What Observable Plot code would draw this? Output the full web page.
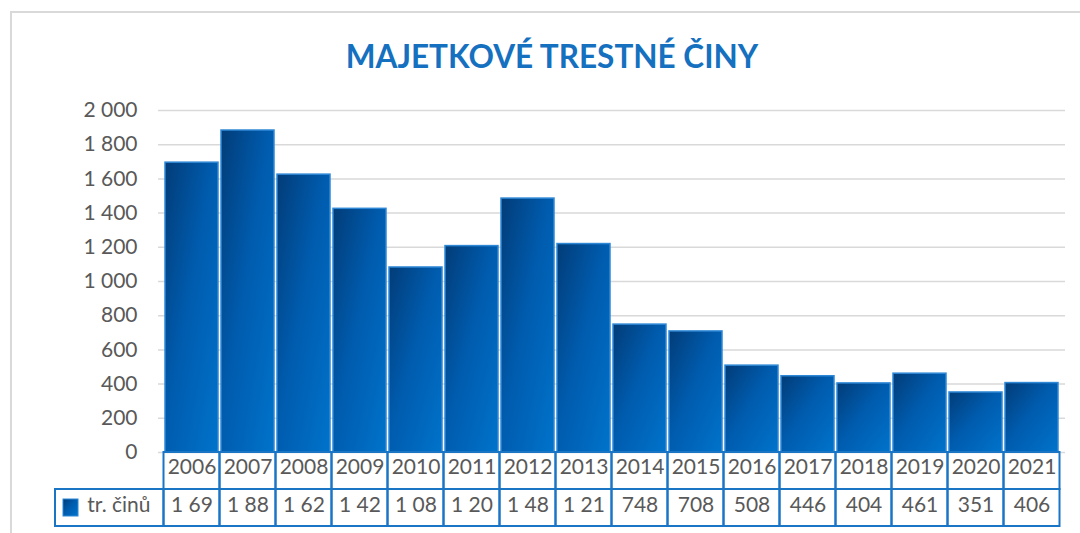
<!DOCTYPE html>
<html>
<head>
<meta charset="utf-8">
<script src="https://cdn.jsdelivr.net/npm/d3@7"></script>
<script src="https://cdn.jsdelivr.net/npm/@observablehq/plot@0.6"></script>
<style>
  body { margin: 0; background: #fff; font-family: Lato, "Open Sans", sans-serif; }
  #wrap { position: relative; width: 1080px; height: 533px; overflow: hidden; background: #fff; }
  #frame { position: absolute; left: 10px; top: 11px; width: 1200px; height: 700px; border: 2px solid #d9d9d9; box-sizing: border-box; }
  #title { position: absolute; left: 12px; top: 38px; width: 1080px; text-align: center; font-family: Lato, sans-serif; font-weight: 700; font-size: 31.5px; line-height: 36px; color: #1570c0; }
  #chart { position: absolute; left: 0; top: 90px; }
</style>
</head>
<body>
<div id="wrap">
  <div id="frame"></div>
  <div id="title">MAJETKOVÉ TRESTNÉ ČINY</div>
  <div id="chart"></div>
</div>
<script>
const years = ["2006","2007","2008","2009","2010","2011","2012","2013","2014","2015","2016","2017","2018","2019","2020","2021"];
const values = [1695, 1883, 1625, 1425, 1082, 1207, 1485, 1219, 748, 708, 508, 446, 404, 461, 351, 406];
const tableLabels = ["1 69","1 88","1 62","1 42","1 08","1 20","1 48","1 21","748","708","508","446","404","461","351","406"];
const yTicks = [0, 200, 400, 600, 800, 1000, 1200, 1400, 1600, 1800, 2000];
const seriesName = "tr. činů";

const data = years.map((year, i) => ({year, value: values[i], label: tableLabels[i]}));
const fmt = d3.formatLocale({decimal: ",", thousands: " ", grouping: [3], currency: ["", ""]}).format(",d");

const textColor = "#595959";
const fs = 21;

const plot = Plot.plot({
  width: 1080,
  height: 443,
  marginLeft: 158,
  marginRight: 15,
  marginTop: 20,
  marginBottom: 81,
  x: {domain: years, paddingInner: 0.06, paddingOuter: 0.03, axis: null},
  y: {domain: [0, 2000], axis: null},
  style: {fontFamily: "Lato, sans-serif", fontSize: "21px", color: textColor, background: "transparent", overflow: "visible"},
  marks: [
    Plot.gridY(yTicks, {stroke: "#d9d9d9", strokeOpacity: 1, strokeWidth: 1.5}),
    Plot.axisY(yTicks, {tickSize: 0, tickPadding: 21, tickFormat: fmt, fontSize: fs, fill: textColor, label: null}),
    Plot.barY(data, {x: "year", y: "value", fill: "url(#barGrad)", stroke: "#2f88d6", strokeWidth: 1.5}),
    Plot.text(years, {x: d => d, frameAnchor: "bottom", dy: 21, fontSize: fs, fill: textColor}),
    Plot.text(data, {x: "year", text: "label", frameAnchor: "bottom", dy: 59, fontSize: fs, fill: textColor}),
    Plot.text([seriesName], {frameAnchor: "bottom-left", dx: -8, dy: 59, textAnchor: "end", fontSize: fs, fill: textColor})
  ]
});

const svg = d3.select(plot);
const defs = svg.insert("defs", ":first-child");
const grad = defs.append("linearGradient").attr("id", "barGrad")
  .attr("x1", 0).attr("y1", 0).attr("x2", 1).attr("y2", 1);
grad.append("stop").attr("offset", 0).attr("stop-color", "#023c78");
grad.append("stop").attr("offset", 0.45).attr("stop-color", "#005bad");
grad.append("stop").attr("offset", 1).attr("stop-color", "#0073cb");

// data table borders drawn from the plot's own x and y scales
const xs = plot.scale("x");
const ys = plot.scale("y");
const step = xs.step, bw = xs.bandwidth;
const off = (step - bw) / 2;
const y0 = ys.apply(0);
const rowH = 37;
const tbl = svg.append("g").attr("fill", "none").attr("stroke", "#1a75c5").attr("stroke-width", 2);
years.forEach(yr => {
  const x0 = xs.apply(yr) - off;
  tbl.append("rect").attr("x", x0).attr("y", y0).attr("width", step).attr("height", rowH);
  tbl.append("rect").attr("x", x0).attr("y", y0 + rowH).attr("width", step).attr("height", rowH);
});
const firstX = xs.apply(years[0]) - off;
tbl.append("rect").attr("x", 55).attr("y", y0 + rowH).attr("width", firstX - 55).attr("height", rowH);
// legend key
svg.append("rect").attr("x", 63).attr("y", y0 + rowH + 10).attr("width", 15).attr("height", 17)
  .attr("fill", "url(#barGrad)").attr("stroke", "#2f88d6").attr("stroke-width", 1);

document.getElementById("chart").appendChild(plot);
</script>
</body>
</html>
